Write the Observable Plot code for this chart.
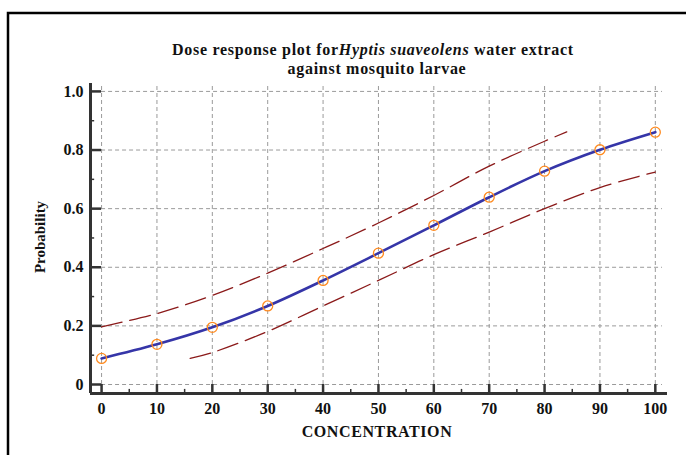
<!DOCTYPE html>
<html>
<head>
<meta charset="utf-8">
<script src="https://cdn.jsdelivr.net/npm/d3@7"></script>
<script src="https://cdn.jsdelivr.net/npm/@observablehq/plot@0.6"></script>
<style>
  html, body { margin: 0; padding: 0; background: #fff; }
  #chart { width: 686px; height: 455px; overflow: hidden; }
</style>
</head>
<body>
<div id="chart"></div>
<script>
// ---- data ----
const concentration = [0, 10, 20, 30, 40, 50, 60, 70, 80, 90, 100];
const probability   = [0.089, 0.137, 0.195, 0.268, 0.355, 0.448, 0.543, 0.639, 0.728, 0.801, 0.861];

const upperX = [0, 10, 20, 30, 40, 50, 60, 70, 80, 84];
const upperP = [0.197, 0.242, 0.304, 0.380, 0.464, 0.551, 0.645, 0.745, 0.830, 0.862];

const lowerX = [16, 20, 30, 40, 50, 60, 70, 80, 90, 100];
const lowerP = [0.089, 0.109, 0.181, 0.268, 0.355, 0.443, 0.520, 0.600, 0.672, 0.725];

const xTicks = [0, 10, 20, 30, 40, 50, 60, 70, 80, 90, 100];
const xMinor = [5, 15, 25, 35, 45, 55, 65, 75, 85, 95];
const yTicks = [0, 0.2, 0.4, 0.6, 0.8, 1.0];
const yTickLabels = ["0", "0.2", "0.4", "0.6", "0.8", "1.0"];
const yMinor = [0.1, 0.3, 0.5, 0.7, 0.9];

const titleLine1a = "Dose response plot for";
const titleItalic = "Hyptis suaveolens";
const titleLine1b = " water extract";
const titleLine2 = "against mosquito larvae";
const xLabel = "CONCENTRATION";
const yLabel = "Probability";

// ---- build tables ----
const points = concentration.map((c, i) => ({x: c, y: probability[i]}));
const upper = upperX.map((c, i) => ({x: c, y: upperP[i]}));
const lower = lowerX.map((c, i) => ({x: c, y: lowerP[i]}));

const xMin = -2, xMax = 102.2, yMin = -0.0307, yMax = 1.027;
const gridXEnd = 101.3;
const serif = "'Liberation Serif', 'Times New Roman', serif";

const plot = Plot.plot({
  width: 686,
  height: 455,
  marginLeft: 90,
  marginRight: 19,
  marginTop: 83,
  marginBottom: 62,
  style: {background: "#fff", fontFamily: serif, overflow: "visible"},
  x: {domain: [xMin, xMax], axis: null},
  y: {domain: [yMin, yMax], axis: null},
  marks: [
    // grid
    Plot.ruleX(xTicks, {x: d => d, y1: 0, y2: yMax, stroke: "#9a9a9a", strokeWidth: 1, strokeDasharray: "4,3"}),
    Plot.ruleY(yTicks, {y: d => d, x1: 0, x2: gridXEnd, stroke: "#9a9a9a", strokeWidth: 1, strokeDasharray: "4,3"}),
    // axis lines
    Plot.ruleX([xMin], {y1: yMin, y2: yMax, stroke: "#333", strokeWidth: 3}),
    Plot.ruleY([yMin], {x1: xMin, x2: xMax, stroke: "#333", strokeWidth: 3}),
    // major ticks (inward)
    Plot.ruleX(xTicks, {x: d => d, y1: yMin, y2: 0, stroke: "#333", strokeWidth: 2.5}),
    Plot.ruleY(yTicks, {y: d => d, x1: xMin, x2: 0, stroke: "#333", strokeWidth: 2.5}),
    // minor ticks
    Plot.ruleX(xMinor, {x: d => d, y1: yMin, y2: yMin + 0.014, stroke: "#333", strokeWidth: 1.5}),
    Plot.ruleY(yMinor, {y: d => d, x1: xMin, x2: xMin + 0.75, stroke: "#333", strokeWidth: 1.5}),
    // tick labels
    Plot.text(xTicks, {x: d => d, y: yMin, text: d => String(d), dy: 15, fontSize: 16, fontWeight: "bold", fill: "#111", fontFamily: serif}),
    Plot.text(yTicks, {x: xMin, y: d => d, text: (d, i) => yTickLabels[i], dx: -7, textAnchor: "end", fontSize: 16, fontWeight: "bold", fill: "#111", fontFamily: serif}),
    // confidence limits
    Plot.line(upper, {x: "x", y: "y", stroke: "#8b1a1a", strokeWidth: 1.3, strokeDasharray: "21,8", curve: "catmull-rom"}),
    Plot.line(lower, {x: "x", y: "y", stroke: "#8b1a1a", strokeWidth: 1.3, strokeDasharray: "21,8", curve: "catmull-rom"}),
    // fitted line
    Plot.line(points, {x: "x", y: "y", stroke: "#3535a8", strokeWidth: 2.6, curve: "catmull-rom"}),
    // observed points
    Plot.dot(points, {x: "x", y: "y", r: 5, stroke: "#ff8a1e", strokeWidth: 1.3, fill: "none"})
  ]
});

document.getElementById("chart").appendChild(plot);

const svg = d3.select(plot);
// outer frame
svg.append("rect")
  .attr("x", 8).attr("y", 13).attr("width", 720).attr("height", 500)
  .attr("fill", "none").attr("stroke", "#000").attr("stroke-width", 2.5);

// title
const t = svg.append("text")
  .attr("x", 373).attr("y", 54.5)
  .attr("text-anchor", "middle")
  .attr("font-family", serif).attr("font-size", 16).attr("font-weight", "bold").attr("fill", "#111")
  .attr("letter-spacing", 0.7);
t.append("tspan").text(titleLine1a);
t.append("tspan").attr("font-style", "italic").text(titleItalic);
t.append("tspan").text(titleLine1b);
svg.append("text")
  .attr("x", 377).attr("y", 73.5)
  .attr("text-anchor", "middle")
  .attr("font-family", serif).attr("font-size", 16).attr("font-weight", "bold").attr("fill", "#111")
  .attr("letter-spacing", 0.7)
  .text(titleLine2);

// axis titles
svg.append("text")
  .attr("x", 377).attr("y", 437)
  .attr("text-anchor", "middle")
  .attr("font-family", serif).attr("font-size", 16).attr("font-weight", "bold").attr("fill", "#111")
  .attr("letter-spacing", 0.6)
  .text(xLabel);
svg.append("text")
  .attr("transform", "translate(45,237) rotate(-90)")
  .attr("text-anchor", "middle")
  .attr("font-family", serif).attr("font-size", 15).attr("font-weight", "bold").attr("fill", "#111")
  .text(yLabel);
</script>
</body>
</html>
